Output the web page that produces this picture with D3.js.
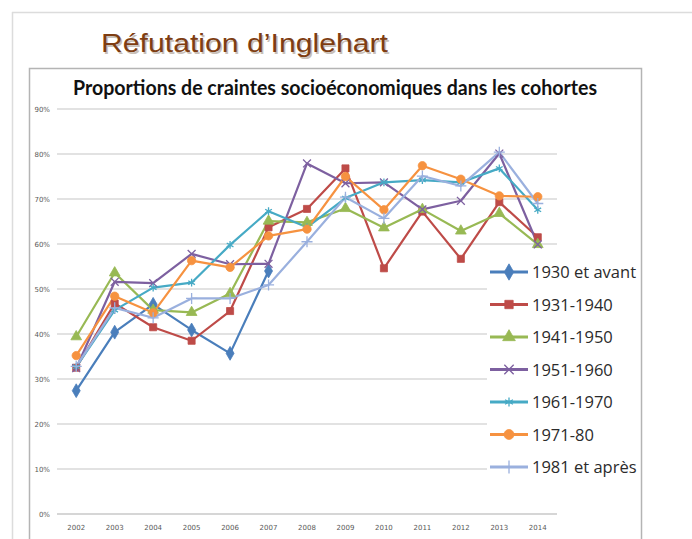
<!DOCTYPE html>
<meta charset="utf-8">
<script src="https://d3js.org/d3.v7.min.js"></script>
<style>
body { margin: 0; background: #fff; }
.grid line { stroke: #d9d9d9; stroke-width: 1.3px; }
.tick-label { font: 7px "DejaVu Sans", sans-serif; fill: #595959; }
.legend text { font: 16.5px "Open Sans", sans-serif; fill: #2b2b2b; }
.serie { fill: none; stroke-width: 2.2; stroke-linejoin: round; }
</style>
<body>
<script>

// data (share of respondents)
var years = ["2002","2003","2004","2005","2006","2007","2008","2009","2010","2011","2012","2013","2014"];
var cohorts = ["1930 et avant","1931-1940","1941-1950","1951-1960","1961-1970","1971-80","1981 et après"];
var yTicks = [0, 0.1, 0.2, 0.3, 0.4, 0.5, 0.6, 0.7, 0.8, 0.9];

var c1930 = [0.274, 0.404, 0.466, 0.409, 0.357, 0.540, null, null, null, null, null, null, null];
var c1931 = [0.325, 0.468, 0.415, 0.385, 0.451, 0.637, 0.678, 0.768, 0.546, 0.672, 0.567, 0.693, 0.615];
var c1941 = [0.394, 0.536, 0.453, 0.448, 0.490, 0.651, 0.648, 0.679, 0.636, 0.677, 0.629, 0.668, 0.599];
var c1951 = [0.324, 0.516, 0.513, 0.578, 0.555, 0.556, 0.779, 0.735, 0.737, 0.677, 0.696, 0.801, 0.599];
var c1961 = [0.327, 0.453, 0.503, 0.514, 0.598, 0.673, 0.637, 0.702, 0.737, 0.742, 0.737, 0.768, 0.676];
var c1971 = [0.352, 0.484, 0.447, 0.563, 0.548, 0.618, 0.633, 0.750, 0.676, 0.774, 0.744, 0.707, 0.705];
var c1981 = [0.328, 0.458, 0.436, 0.479, 0.479, 0.509, 0.605, 0.704, 0.657, 0.751, 0.729, 0.804, 0.690];

var series = [c1930, c1931, c1941, c1951, c1961, c1971, c1981];
var colors = ["#4a7ebb", "#be4b48", "#98b954", "#7d60a0", "#46aac5", "#f69240", "#9ab0de"];
var symbols = [d3.symbolDiamond, d3.symbolSquare, d3.symbolTriangle, d3.symbolTimes,
               d3.symbolAsterisk, d3.symbolCircle, d3.symbolPlus];
var symbolSize = [55, 50, 50, 42, 42, 55, 42];
var stroked = [false, false, false, true, true, false, true];

var width = 692, height = 539;

var svg = d3.select("body").append("svg")
  .attr("width", width)
  .attr("height", height);

// slide frame
svg.append("line").attr("x1", 12).attr("x2", width).attr("y1", 12.5).attr("y2", 12.5)
  .attr("stroke", "#dcdcdc").attr("stroke-width", 1.5);
svg.append("line").attr("x1", 12.5).attr("x2", 12.5).attr("y1", 12).attr("y2", height)
  .attr("stroke", "#dcdcdc").attr("stroke-width", 1.5);

// slide title
svg.append("text")
  .attr("x", 101).attr("y", 52)
  .attr("textLength", 287).attr("lengthAdjust", "spacingAndGlyphs")
  .style("font", "26px 'Liberation Sans', Arial, sans-serif")
  .style("fill", "#c8c0b8")
  .attr("transform", "translate(1.5,1.5)")
  .text("Réfutation d’Inglehart");
svg.append("text")
  .attr("x", 101).attr("y", 52)
  .attr("textLength", 287).attr("lengthAdjust", "spacingAndGlyphs")
  .style("font", "26px 'Liberation Sans', Arial, sans-serif")
  .style("fill", "#7e3d12")
  .text("Réfutation d’Inglehart");

// chart box
svg.append("rect")
  .attr("x", 29.5).attr("y", 68.5)
  .attr("width", 612).attr("height", 480)
  .attr("fill", "#fff").attr("stroke", "#b4b4b4").attr("stroke-width", 1.5);

svg.append("text")
  .attr("x", 335).attr("y", 95)
  .attr("text-anchor", "middle")
  .attr("textLength", 524).attr("lengthAdjust", "spacingAndGlyphs")
  .style("font", "bold 20px Lato, 'Open Sans', sans-serif")
  .style("fill", "#111")
  .text("Proportions de craintes socioéconomiques dans les cohortes");

var xScale = d3.scalePoint()
  .domain(years)
  .range([57, 557])
  .padding(0.5);

var yScale = d3.scaleLinear()
  .domain([0, 0.9])
  .range([514, 109]);

// gridlines
svg.append("g").attr("class", "grid")
  .selectAll("line")
  .data(yTicks.filter(function(d) { return d > 0; }))
  .enter().append("line")
  .attr("x1", 57).attr("x2", 557)
  .attr("y1", function(d) { return yScale(d); })
  .attr("y2", function(d) { return yScale(d); });

svg.append("line")
  .attr("x1", 57).attr("x2", 557)
  .attr("y1", yScale(0)).attr("y2", yScale(0))
  .attr("stroke", "#c8c8c8").attr("stroke-width", 1.3);

svg.selectAll(".ylab")
  .data(yTicks).enter().append("text")
  .attr("class", "tick-label")
  .attr("x", 50)
  .attr("y", function(d) { return yScale(d) + 2.5; })
  .attr("text-anchor", "end")
  .text(d3.format(".0%"));

svg.selectAll(".xlab")
  .data(years).enter().append("text")
  .attr("class", "tick-label")
  .attr("x", function(d) { return xScale(d); })
  .attr("y", 530)
  .attr("text-anchor", "middle")
  .text(function(d) { return d; });

var line = d3.line()
  .defined(function(d) { return d.v != null; })
  .x(function(d) { return xScale(d.year); })
  .y(function(d) { return yScale(d.v); });

function markerStyle(sel, i, k) {
  sel.attr("d", d3.symbol().type(symbols[i]).size(symbolSize[i] * k))
    .attr("fill", stroked[i] ? "none" : colors[i])
    .attr("stroke", colors[i])
    .attr("stroke-width", stroked[i] ? 1.3 : 0.8);
}

series.forEach(function(vals, i) {
  var pts = vals.map(function(v, j) { return {year: years[j], v: v}; });
  svg.append("path")
    .attr("class", "serie")
    .attr("stroke", colors[i])
    .attr("d", line(pts));
});

series.forEach(function(vals, i) {
  var pts = vals.map(function(v, j) { return {year: years[j], v: v}; })
    .filter(function(d) { return d.v != null; });
  svg.selectAll(".m" + i)
    .data(pts).enter().append("path")
    .attr("class", "m" + i)
    .attr("transform", function(d) { return "translate(" + xScale(d.year) + "," + yScale(d.v) + ")"; })
    .call(markerStyle, i, 1);
});

// legend, sitting on a white box over the plot
var legend = svg.append("g").attr("class", "legend");
legend.append("rect")
  .attr("x", 487).attr("y", 256)
  .attr("width", 152).attr("height", 233)
  .attr("fill", "#fff");

var item = legend.selectAll(".item")
  .data(cohorts).enter().append("g")
  .attr("class", "item")
  .attr("transform", function(d, i) { return "translate(0," + (272 + i * 32.5) + ")"; });

item.append("line")
  .attr("x1", 490).attr("x2", 528)
  .attr("stroke", function(d, i) { return colors[i]; })
  .attr("stroke-width", 3);

item.append("path")
  .attr("transform", "translate(509,0)")
  .each(function(d, i) { d3.select(this).call(markerStyle, i, 1.4); });

item.append("text")
  .attr("x", 532)
  .attr("y", 6)
  .text(function(d) { return d; });

</script>
</body>
